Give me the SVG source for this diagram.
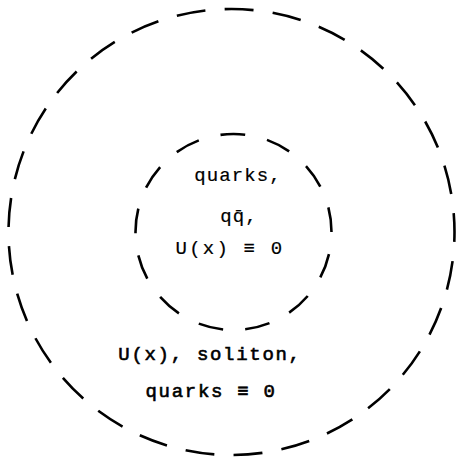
<svg xmlns="http://www.w3.org/2000/svg" width="457" height="462" viewBox="0 0 457 462">
<style>
.ring{fill:none;stroke:#000;stroke-width:2.6}
.t{font-family:"Liberation Mono","DejaVu Sans Mono",monospace;font-size:19px;fill:#000;text-anchor:middle}
.in{letter-spacing:1.1px;stroke:#000;stroke-width:0.2}
.out{letter-spacing:1.7px;stroke:#000;stroke-width:0.6}
</style>
<rect width="457" height="462" fill="#fff"/>
<g id="connectors"/>
<g id="outer">
<circle class="ring" cx="231.5" cy="232" r="223" pathLength="1400" stroke-dasharray="29 19.276" stroke-dashoffset="19"/>
<text class="t out" x="210" y="360">U(x), soliton,</text>
<text class="t out" x="211" y="397">quarks ≡ 0</text>
</g>
<g id="inner">
<circle class="ring" cx="233.5" cy="232" r="98" pathLength="616" stroke-dasharray="25 22.385" stroke-dashoffset="25"/>
<text class="t in" x="238" y="181">quarks,</text>
<text class="t in" x="239" y="222">qq̄,</text>
<text class="t in" x="230" y="254" style="letter-spacing:2.2px">U(x) ≡  0</text>
</g>
</svg>
